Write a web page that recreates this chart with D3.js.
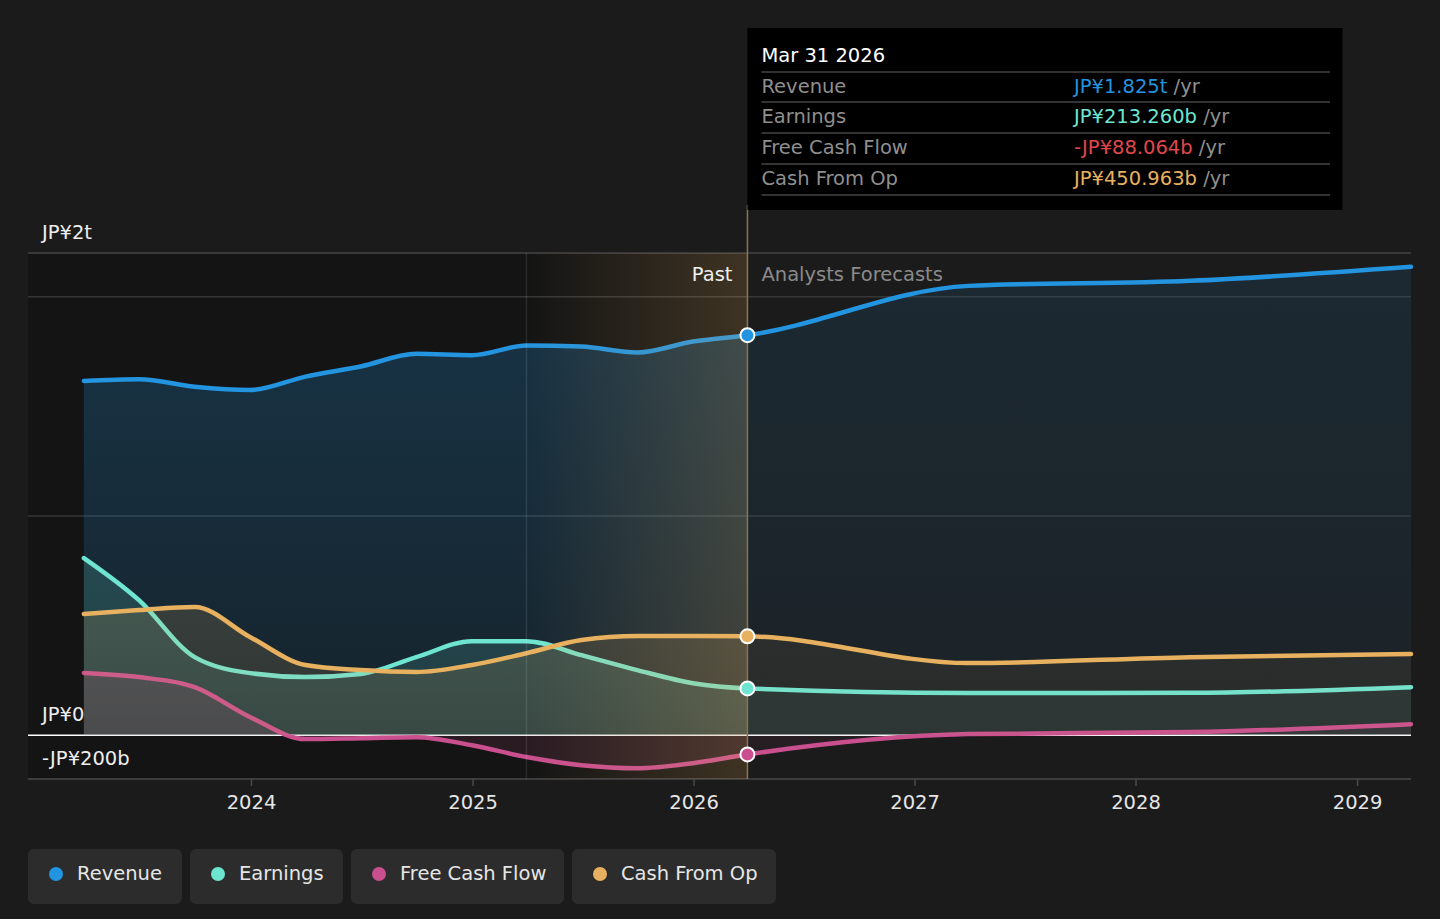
<!DOCTYPE html>
<html>
<head>
<meta charset="utf-8">
<script src="https://cdn.jsdelivr.net/npm/d3@7"></script>
<style>
  body { margin: 0; background: #1b1b1b; }
  svg { display: block; font-family: "DejaVu Sans", sans-serif; }
</style>
</head>
<body>
<svg width="1440" height="919"></svg>
<script>
// dates of the points (quarter ends for the past, fiscal year ends for forecasts)
const dates = ["2023-03-31", "2023-06-30", "2023-09-30", "2023-12-31", "2024-03-31", "2024-06-30",
  "2024-09-30", "2024-12-31", "2025-03-31", "2025-06-30", "2025-09-30", "2025-12-31", "2026-03-31",
  "2027-03-31", "2028-03-31", "2029-03-31"];

// values in JP¥ billions
const revenue = [1616, 1624, 1590, 1575, 1636, 1682, 1740, 1734, 1778, 1773, 1746, 1796, 1825, 2050, 2073, 2137];
const earnings = [808, 616, 356, 283, 265, 279, 356, 429, 429, 365, 297, 237, 213.26, 192, 193, 219];
const freeCashFlow = [284, 265, 219, 82, -18, -14, -9, -46, -100, -137, -151, -128, -88.064, 5, 14, 50];
const cashFromOp = [553, 571, 585, 447, 320, 297, 288, 320, 374, 434, 452, 452, 450.963, 329, 356, 370];

const seriesNames = ["Revenue", "Earnings", "Free Cash Flow", "Cash From Op"];
const seriesColors = ["#2394df", "#6ee5d1", "#c94f8f", "#e8b15f"];
const tooltipValues = ["JP¥1.825t", "JP¥213.260b", "-JP¥88.064b", "JP¥450.963b"];
const tooltipColors = ["#2394df", "#6ee5d1", "#e0474c", "#e8b15f"];

const yTicks = [2000, 1000, 0, -200];
const yLabels = [{ v: 2200, t: "JP¥2t" }, { v: 0, t: "JP¥0" }, { v: -200, t: "-JP¥200b" }];
const xTickYears = [2024, 2025, 2026, 2027, 2028, 2029];

const nowDate = "2026-03-31";
const pastStart = "2025-03-31";

const svg = d3.select("svg");
const parse = d3.timeParse("%Y-%m-%d");
const fs = 19.5;

const plotLeft = 28, plotRight = 1411, plotTop = 253, plotBottom = 779;

const x = d3.scaleTime()
  .domain([new Date(2023, 0, 1), parse("2029-03-31")])
  .range([30, plotRight]);
const y = d3.scaleLinear()
  .domain([-200, 2200])
  .range([plotBottom, plotTop]);

const xNow = x(parse(nowDate));
const xPast = x(parse(pastStart));

const defs = svg.append("defs");

// darker background behind the past
svg.append("rect")
  .attr("x", plotLeft).attr("y", plotTop)
  .attr("width", xNow - plotLeft).attr("height", plotBottom - plotTop)
  .attr("fill", "#141414");

// grid
svg.append("line")
  .attr("x1", plotLeft).attr("x2", plotRight)
  .attr("y1", plotTop).attr("y2", plotTop)
  .attr("stroke", "#444").attr("stroke-width", 1.5);
yTicks.forEach(v => {
  svg.append("line")
    .attr("x1", plotLeft).attr("x2", plotRight)
    .attr("y1", y(v)).attr("y2", y(v))
    .attr("stroke", v === 0 ? "#ffffff" : (v === -200 ? "#4a4a4a" : "#363636"))
    .attr("stroke-width", 1.5);
});

// clip paths for past / forecast
defs.append("clipPath").attr("id", "clipPast")
  .append("rect").attr("x", plotLeft).attr("y", 0).attr("width", xNow - plotLeft).attr("height", 919);
defs.append("clipPath").attr("id", "clipFuture")
  .append("rect").attr("x", xNow).attr("y", 0).attr("width", plotRight - xNow).attr("height", 919);

function gradient(id, color, a1, a2) {
  const g = defs.append("linearGradient").attr("id", id)
    .attr("gradientUnits", "userSpaceOnUse")
    .attr("x1", 0).attr("x2", 0).attr("y1", plotTop).attr("y2", y(0));
  g.append("stop").attr("offset", 0).attr("stop-color", color).attr("stop-opacity", a1);
  g.append("stop").attr("offset", 1).attr("stop-color", color).attr("stop-opacity", a2);
}

const allSeries = [revenue, earnings, freeCashFlow, cashFromOp];
const points = allSeries.map(vals => vals.map((v, i) => ({ date: parse(dates[i]), value: v })));

const area = d3.area()
  .x(d => x(d.date))
  .y0(y(0))
  .y1(d => y(d.value))
  .curve(d3.curveMonotoneX);
const line = d3.line()
  .x(d => x(d.date))
  .y(d => y(d.value))
  .curve(d3.curveMonotoneX);

points.forEach((pts, i) => {
  const c = seriesColors[i];
  gradient("gp" + i, c, 0.26, 0.12);
  gradient("gf" + i, c, 0.12, 0.06);
  svg.append("path").datum(pts)
    .attr("d", area).attr("fill", `url(#gp${i})`)
    .attr("clip-path", "url(#clipPast)");
  svg.append("path").datum(pts)
    .attr("d", area).attr("fill", `url(#gf${i})`)
    .attr("clip-path", "url(#clipFuture)");
  svg.append("path").datum(pts)
    .attr("d", line)
    .attr("fill", "none")
    .attr("stroke", c)
    .attr("stroke-width", 4.5)
    .attr("stroke-linecap", "round");
});

// highlighted past year band
const band = defs.append("linearGradient").attr("id", "band")
  .attr("x1", 0).attr("x2", 1).attr("y1", 0).attr("y2", 0);
band.append("stop").attr("offset", 0).attr("stop-color", "#e8b15f").attr("stop-opacity", 0.0);
band.append("stop").attr("offset", 1).attr("stop-color", "#e8b15f").attr("stop-opacity", 0.2);
svg.append("rect")
  .attr("x", xPast).attr("y", plotTop)
  .attr("width", xNow - xPast).attr("height", plotBottom - plotTop)
  .attr("fill", "url(#band)");
svg.append("line")
  .attr("x1", xPast).attr("x2", xPast)
  .attr("y1", plotTop).attr("y2", plotBottom)
  .attr("stroke", "#ffffff").attr("stroke-opacity", 0.1).attr("stroke-width", 1.5);

// bottom axis
const xAxis = svg.append("g")
  .attr("transform", `translate(0, ${plotBottom})`)
  .call(d3.axisBottom(x)
    .tickValues(xTickYears.map(yr => new Date(yr, 0, 1)))
    .tickSize(8)
    .tickFormat(d3.timeFormat("%Y")));
xAxis.select(".domain").remove();
xAxis.selectAll(".tick line").attr("stroke", "#4a4a4a").attr("stroke-width", 1.5).attr("y2", 7);
xAxis.selectAll(".tick text")
  .attr("fill", "#e6e6e6").attr("font-size", fs).attr("y", 12).attr("dy", "0.9em")
  .attr("font-family", "DejaVu Sans, sans-serif");

// y labels
yLabels.forEach(l => {
  svg.append("text")
    .attr("x", 42).attr("y", (l.v === 2200 ? plotTop : y(l.v)) - 14)
    .attr("fill", "#eeeeee").attr("font-size", fs)
    .text(l.t);
});

// past / forecast labels
svg.append("text")
  .attr("x", xNow - 15).attr("y", 281)
  .attr("text-anchor", "end")
  .attr("fill", "#eeeeee").attr("font-size", fs)
  .text("Past");
svg.append("text")
  .attr("x", xNow + 14).attr("y", 281)
  .attr("fill", "#8a8a8a").attr("font-size", fs)
  .text("Analysts Forecasts");

// tooltip
svg.append("line")
  .attr("x1", xNow).attr("x2", xNow)
  .attr("y1", 205).attr("y2", plotBottom)
  .attr("stroke", "#8c7550").attr("stroke-width", 1.5);
svg.append("rect")
  .attr("x", xNow).attr("y", 28)
  .attr("width", 595).attr("height", 182)
  .attr("fill", "#000000");
svg.append("text")
  .attr("x", xNow + 14).attr("y", 62)
  .attr("fill", "#ffffff").attr("font-size", fs)
  .text("Mar 31 2026");
const rowY = [72, 102, 133, 164, 195];
rowY.forEach(ry => {
  svg.append("line")
    .attr("x1", xNow + 14).attr("x2", 1330)
    .attr("y1", ry).attr("y2", ry)
    .attr("stroke", "#444").attr("stroke-width", 1.5);
});
seriesNames.forEach((name, i) => {
  const by = rowY[i] + 21;
  svg.append("text")
    .attr("x", xNow + 14).attr("y", by)
    .attr("fill", "#8f8f8f").attr("font-size", fs)
    .text(name);
  const t = svg.append("text")
    .attr("x", 1074).attr("y", by)
    .attr("font-size", fs);
  t.append("tspan").attr("fill", tooltipColors[i]).text(tooltipValues[i]);
  t.append("tspan").attr("fill", "#8f8f8f").text(" /yr");
});

// markers at the current point
points.forEach((pts, i) => {
  const p = pts.find(d => +d.date === +parse(nowDate));
  svg.append("circle")
    .attr("cx", x(p.date)).attr("cy", y(p.value))
    .attr("r", 7)
    .attr("fill", seriesColors[i])
    .attr("stroke", "#ffffff").attr("stroke-width", 2);
});

// legend
const legendX = [28, 190, 351, 572];
const legendW = [154, 153, 213, 204];
seriesNames.forEach((name, i) => {
  const g = svg.append("g").attr("transform", `translate(${legendX[i]}, 849)`);
  g.append("rect")
    .attr("width", legendW[i]).attr("height", 55)
    .attr("rx", 6)
    .attr("fill", "#2c2c2c");
  g.append("circle")
    .attr("cx", 28).attr("cy", 25)
    .attr("r", 7)
    .attr("fill", seriesColors[i]);
  g.append("text")
    .attr("x", 49).attr("y", 31)
    .attr("fill", "#e6e6e6").attr("font-size", fs)
    .text(name);
});
</script>
</body>
</html>
